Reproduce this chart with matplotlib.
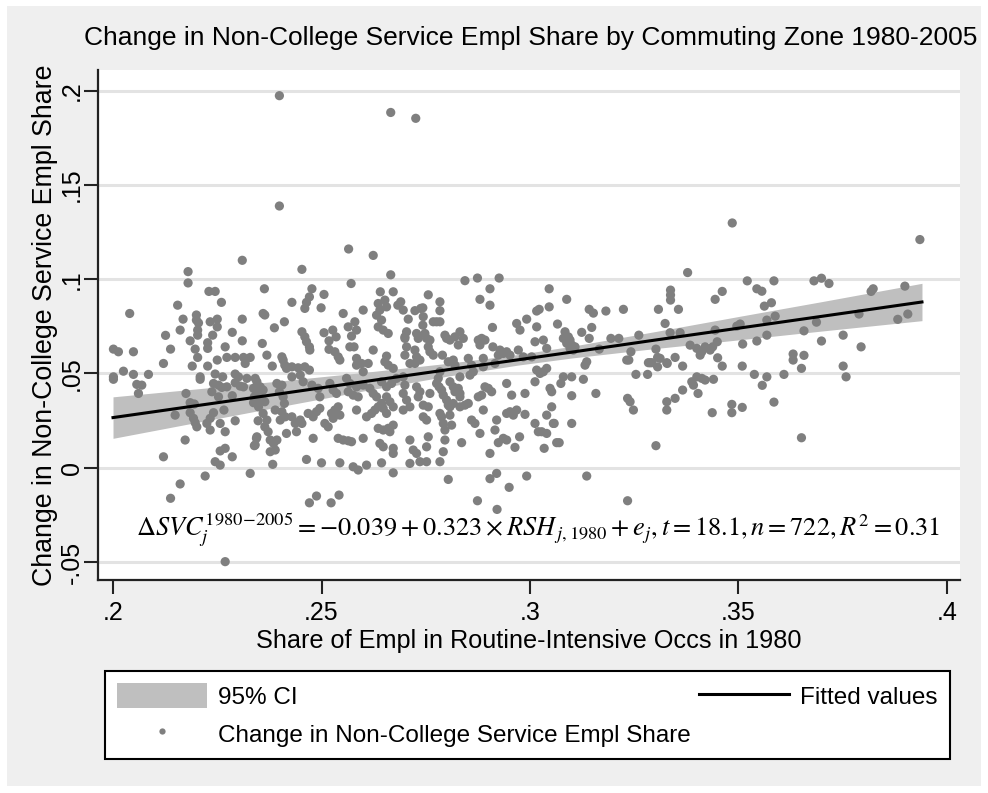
import matplotlib
matplotlib.use("Agg")
import matplotlib.pyplot as plt
from matplotlib.patches import Patch, Rectangle
from matplotlib.lines import Line2D

# ---------------- text ----------------
title = "Change in Non-College Service Empl Share by Commuting Zone 1980-2005"
x_label = "Share of Empl in Routine-Intensive Occs in 1980"
y_label = "Change in Non-College Service Empl Share"
x_ticks = [0.2, 0.25, 0.3, 0.35, 0.4]
x_tick_labels = [".2", ".25", ".3", ".35", ".4"]
y_ticks = [-0.05, 0.0, 0.05, 0.1, 0.15, 0.2]
y_tick_labels = ["-.05", "0", ".05", ".1", ".15", ".2"]
legend_labels = ["95% CI", "Change in Non-College Service Empl Share", "Fitted values"]
equation = (r"$\Delta SVC_j^{\mathrm{1980\!-\!2005}} = -0.039 + 0.323\times RSH_{\,j,\mathrm{1980}}"
            r" + e_j, t = 18.1, n = 722, R^2 = 0.31$")

# ---------------- fitted line and 95% CI ----------------
ci_x = [0.200, 0.220, 0.240, 0.260, 0.280, 0.297, 0.310, 0.330, 0.350, 0.370, 0.394]
fit_y = [0.0266, 0.0329, 0.0392, 0.0456, 0.0519, 0.0572, 0.0613, 0.0677, 0.0740, 0.0803, 0.0879]
ci_lo = [0.0156, 0.0240, 0.0324, 0.0407, 0.0485, 0.0544, 0.0582, 0.0632, 0.0678, 0.0725, 0.0780]
ci_hi = [0.0376, 0.0418, 0.0460, 0.0505, 0.0553, 0.0600, 0.0644, 0.0722, 0.0802, 0.0881, 0.0978]

# ---------------- commuting zones: (RSH share 1980, change in service share) ----------------
cz_low_rsh = [
    (.231, .110), (.218, .104), (.218, .098), (.223, .0935), (.2245, .0935), (.226, .0877), (.2155, .0862),
    (.204, .0818), (.220, .081), (.220, .0783), (.2205, .0768), (.2168, .0788), (.2233, .0774), (.225, .0788),
    (.225, .0747), (.231, .0788), (.2161, .073), (.2203, .073), (.2203, .0703), (.2286, .0718), (.2239, .0703),
    (.2126, .0702), (.2185, .0673), (.2227, .0663), (.2227, .0633), (.231, .0673), (.2269, .0641), (.2001, .0629),
    (.2013, .0615), (.2049, .0615), (.2138, .0629), (.2197, .0629), (.2203, .0585), (.225, .0571), (.2273, .0585),
    (.2293, .0585), (.2313, .0585), (.2329, .0585), (.2121, .0553), (.219, .0539), (.2227, .0539), (.2317, .0553),
    (.2025, .0512), (.2001, .0482), (.2001, .0469), (.2049, .0495), (.2085, .0495), (.2209, .0482), (.2209, .0469),
    (.2245, .0497), (.2263, .0482), (.2293, .0497), (.2301, .0482), (.2321, .0474), (.2341, .0474), (.2057, .0442),
    (.2069, .0438), (.2061, .0394), (.2241, .0447), (.2253, .0438), (.2261, .0426), (.2273, .0429), (.2237, .0403),
    (.2253, .0376), (.2293, .0451), (.2305, .0433), (.2313, .0429), (.2337, .0421), (.2345, .0403), (.2175, .0394),
    (.2286, .0382), (.2185, .0345), (.2195, .0338), (.2339, .0376), (.2337, .0345), (.2349, .035), (.2149, .0279),
    (.2185, .0292), (.2193, .0262), (.2197, .0239), (.2201, .0217), (.2241, .0292), (.2233, .0262), (.2225, .0235),
    (.2233, .020), (.2266, .0306), (.2257, .0235), (.2293, .0249), (.2269, .0191), (.2348, .0249), (.2173, .0147),
    (.2344, .0156), (.2339, .0117), (.2257, .0089), (.2269, .0103), (.2121, .0058), (.2286, .0058), (.2245, .0032),
    (.2257, .0014), (.2221, -.0044), (.2329, -.003), (.2138, -.0162), (.2161, -.0086), (.2269, -.0498),
    (.2399, .1973), (.2666, .1884), (.2726, .1853), (.2399, .1388), (.2565, .116), (.2624, .1126),
]
cz_mid_low_rsh = [
    (.2453, .1052), (.2666, .1023), (.2571, .0977), (.2363, .0949), (.2477, .0949), (.2471, .0906), (.2464, .0877),
    (.246, .0845), (.2506, .0919), (.2499, .0848), (.2429, .0877), (.2641, .0933), (.2672, .0933), (.2636, .0871),
    (.2652, .0889), (.2656, .0853), (.264, .0836), (.2632, .0809), (.2644, .0783), (.2636, .0747), (.2648, .073),
    (.266, .0712), (.260, .0836), (.2683, .0862), (.236, .0818), (.2364, .081), (.2411, .0774), (.2387, .0742),
    (.2552, .0818), (.2453, .0721), (.246, .0694), (.2464, .0668), (.2471, .0641), (.2472, .0624), (.2506, .0716),
    (.2518, .0673), (.2527, .073), (.2535, .0694), (.2518, .0628), (.2532, .0615), (.254, .0588), (.2544, .0571),
    (.2564, .0747), (.2572, .0698), (.258, .0774), (.2584, .073), (.2568, .0641), (.2578, .0641), (.2358, .0659),
    (.2369, .0597), (.2405, .0588), (.2408, .0571), (.2412, .0544), (.2416, .0527), (.2382, .0539), (.2429, .0535),
    (.2444, .053), (.246, .0535), (.2471, .0518), (.2584, .058), (.2584, .0544), (.2596, .0553), (.2612, .0553),
    (.260, .0509), (.2624, .0624), (.2656, .0592), (.2652, .0562), (.266, .0544), (.2672, .0527), (.270, .0597),
    (.270, .0694), (.2704, .0721), (.2345, .0456), (.2353, .0429), (.236, .0412), (.2351, .0376), (.2364, .035),
    (.2393, .0447), (.2405, .0438), (.2399, .0403), (.2408, .0376), (.2411, .0341), (.2429, .0482), (.2449, .0491),
    (.2456, .0456), (.2477, .0438), (.2492, .0421), (.2496, .0376), (.252, .0447), (.2528, .0412), (.2536, .0394),
    (.256, .0474), (.2568, .0447), (.2584, .0429), (.2564, .0403), (.2576, .0385), (.2588, .0376), (.260, .0438),
    (.2616, .0421), (.2624, .0394), (.2632, .0376), (.2644, .0456), (.2656, .0429), (.2668, .0447), (.268, .0474),
    (.2656, .0376), (.2664, .035), (.2696, .0394), (.2704, .0359), (.2349, .0323), (.236, .0288), (.2369, .0253),
    (.2364, .0217), (.2372, .0191), (.2389, .0306), (.2405, .0297), (.2401, .0253), (.2413, .027), (.2429, .027),
    (.2437, .0235), (.2449, .0253), (.2453, .0235), (.2468, .0288), (.248, .027), (.2488, .0297), (.2496, .0315),
    (.2508, .0235), (.2516, .0217), (.2524, .0288), (.2532, .0306), (.254, .0323), (.2528, .0262), (.2544, .0279),
    (.2584, .0306), (.2608, .027), (.262, .0288), (.2628, .0306), (.2636, .0323), (.2644, .0341), (.2648, .0315),
    (.2656, .0288), (.2672, .0323), (.2696, .0306), (.2636, .0209), (.2648, .020), (.266, .0209), (.2672, .0226),
    (.2664, .0191), (.2345, .0164), (.2341, .0121), (.2377, .0147), (.2385, .0129), (.2393, .0147), (.2389, .0094),
    (.2377, .0085), (.2416, .0182), (.244, .0191), (.248, .0156), (.254, .0156), (.2552, .0147), (.2564, .0143),
    (.2572, .0138), (.260, .0156), (.264, .0129), (.2648, .0111), (.2672, .0103), (.2672, .0076), (.2383, .0018),
    (.2464, .0044), (.250, .0026), (.2544, .0026), (.2576, .0005), (.2588, -.0012), (.2608, .0014), (.2644, .0026),
    (.2672, -.0027), (.2471, -.0186), (.2488, -.015), (.2523, -.0186), (.2542, -.0145),
]
cz_mid_rsh = [
    (.2844, .0992), (.2874, .1006), (.2926, .1006), (.2904, .0949), (.3046, .0949), (.2756, .0917), (.288, .0893),
    (.2904, .0862), (.3088, .0893), (.269, .088), (.2743, .0848), (.2784, .088), (.3022, .084), (.3046, .0853),
    (.2696, .0836), (.2784, .0833), (.2724, .0833), (.2738, .0845), (.2744, .0801), (.2708, .0788), (.2768, .0774),
    (.2776, .0774), (.2784, .0774), (.2743, .0756), (.270, .0686), (.2728, .0712), (.2732, .0686), (.2748, .0712),
    (.2752, .0686), (.276, .0677), (.2796, .0703), (.280, .0686), (.2808, .0677), (.282, .0694), (.2832, .0721),
    (.284, .0686), (.2828, .0651), (.291, .0744), (.2968, .0765), (.2976, .073), (.2992, .0788), (.3016, .0831),
    (.3016, .0747), (.3066, .0762), (.2876, .0677), (.2884, .0686), (.2892, .0677), (.288, .0651), (.2911, .0641),
    (.2928, .0624), (.2924, .0597), (.2936, .0606), (.2944, .0615), (.2952, .0597), (.2972, .0624), (.2984, .0588),
    (.3004, .0588), (.3012, .0668), (.3032, .0677), (.304, .0633), (.2704, .0641), (.2724, .0624), (.2728, .0588),
    (.2736, .0571), (.2712, .0553), (.2724, .0553), (.2756, .0641), (.276, .0615), (.2768, .0597), (.279, .0597),
    (.2804, .0562), (.2816, .0571), (.282, .0544), (.2852, .058), (.286, .0544), (.2864, .0509), (.2888, .058),
    (.2888, .0535), (.2916, .0553), (.2832, .0482), (.2784, .0509), (.278, .0474), (.2776, .0447), (.2782, .0429),
    (.2788, .0412), (.2792, .0385), (.2696, .0482), (.270, .0438), (.2728, .0429), (.2736, .0403), (.2732, .0376),
    (.276, .0394), (.2808, .0456), (.2816, .0429), (.282, .0403), (.2828, .0421), (.2832, .0394), (.2832, .0376),
    (.280, .0359), (.2804, .0332), (.2808, .0323), (.2816, .0341), (.2856, .0491), (.2876, .0376), (.2884, .0385),
    (.2892, .0429), (.290, .0421), (.2908, .0403), (.2944, .0447), (.2956, .0385), (.2988, .0394), (.3012, .0456),
    (.3016, .0518), (.3024, .050), (.3032, .0509), (.304, .0527), (.3048, .0421), (.3052, .0403), (.2712, .0323),
    (.2744, .0332), (.2756, .0323), (.2744, .027), (.2752, .0253), (.2784, .0288), (.2788, .027), (.2792, .0235),
    (.2796, .020), (.2808, .0279), (.2812, .0226), (.2832, .0323), (.2844, .0332), (.2852, .0341), (.286, .0253),
    (.2868, .0235), (.2888, .0306), (.288, .0182), (.2904, .0076), (.292, .0253), (.2916, .020), (.2924, .0133),
    (.2936, .0156), (.2944, .0147), (.2944, .0288), (.2952, .0297), (.296, .0279), (.2968, .0306), (.2964, .0108),
    (.2975, .0164), (.2988, .0283), (.3012, .0235), (.302, .0191), (.3028, .0191), (.304, .0182), (.304, .0279),
    (.3052, .0323), (.3056, .0235), (.3064, .0133), (.3034, .0103), (.2712, .0147), (.272, .0094), (.2728, .0076),
    (.2756, .0164), (.2752, .0111), (.2796, .0147), (.2792, .0085), (.2836, .0133), (.2712, .0023), (.2736, .0032),
    (.2752, .0032), (.2784, .0032), (.2804, -.0062), (.2904, -.0058), (.292, -.003), (.2992, -.0044),
    (.295, -.0104), (.2874, -.0175), (.2921, -.0221), (.3136, -.0044), (.3234, -.0175),
]
cz_mid_high_rsh = [
    (.3142, .084), (.3152, .082), (.3182, .0831), (.3224, .084), (.3308, .084), (.3337, .0942), (.3337, .0916),
    (.3337, .0889), (.3378, .1035), (.3356, .084), (.3148, .0744), (.3124, .0718), (.3324, .0765), (.3084, .0721),
    (.3092, .0694), (.308, .0686), (.3096, .0677), (.310, .0651), (.3088, .066), (.3104, .0624), (.3108, .0641),
    (.3096, .0633), (.3142, .0686), (.3194, .0686), (.3213, .0686), (.3261, .0703), (.3166, .0629), (.3242, .0615),
    (.3232, .0571), (.3237, .0571), (.3136, .0562), (.3132, .0544), (.3284, .0557), (.3288, .0557), (.3292, .0557),
    (.3302, .0629), (.3306, .0585), (.3306, .0535), (.3329, .0553), (.3254, .0495), (.3282, .0495), (.308, .0482),
    (.3074, .0447), (.310, .0482), (.3128, .0469), (.3158, .0394), (.310, .0382), (.3234, .0368), (.324, .035),
    (.3248, .0306), (.3058, .0235), (.310, .0235), (.307, .0133), (.3302, .0117),
]
cz_high_rsh = [
    (.3485, .1298), (.3935, .121), (.3521, .0991), (.3544, .0949), (.3556, .0936), (.3585, .0991), (.3681, .0991),
    (.3699, .1005), (.3717, .0977), (.3461, .0935), (.3444, .0893), (.3818, .0935), (.3823, .0949), (.3899, .0963),
    (.3562, .0857), (.3579, .0875), (.3336, .0716), (.336, .0716), (.3444, .073), (.3496, .0751), (.3504, .0762),
    (.3588, .0804), (.3568, .0783), (.3657, .0726), (.3687, .0772), (.3789, .0815), (.3882, .0787), (.3906, .0815),
    (.3384, .065), (.340, .0633), (.3412, .0615), (.3408, .0597), (.342, .0641), (.3432, .0624), (.3438, .0641),
    (.3449, .0668), (.351, .0656), (.3544, .0672), (.3568, .0703), (.3699, .0672), (.3751, .0703), (.3794, .0641),
    (.3312, .058), (.3328, .0557), (.3348, .0585), (.3366, .0539), (.345, .0583), (.3461, .0539), (.3509, .0539),
    (.3631, .0603), (.3631, .0571), (.3657, .0596), (.3651, .0527), (.3751, .0539), (.3758, .0482), (.3538, .0495),
    (.3568, .0482), (.3557, .0437), (.3609, .0495), (.3585, .0348), (.340, .0482), (.3412, .0474), (.342, .0465),
    (.3388, .0456), (.3392, .0438), (.3403, .0394), (.344, .0469), (.3366, .0412), (.3348, .0368), (.3328, .035),
    (.3328, .0306), (.3437, .0292), (.3484, .0336), (.3484, .0292), (.3509, .032), (.3651, .0159),
]

# ---------------- styling ----------------
BG = "#efefef"
PT = "#7f7f7f"
BAND = "#bfbfbf"
GRID = "#e3e3e3"

plt.rcParams["font.family"] = ["Liberation Sans", "DejaVu Sans"]
plt.rcParams["mathtext.fontset"] = "stix"

W, H = 988, 793
fig = plt.figure(figsize=(W / 100, H / 100), dpi=100)
fig.patch.set_facecolor("white")
fig.patches.append(Rectangle((7 / W, 7 / H), 974 / W, 780 / H, transform=fig.transFigure,
                             facecolor=BG, edgecolor="none", zorder=-10))

L, R, T, B = 98, 960, 70, 580
ax = fig.add_axes([L / W, 1 - B / H, (R - L) / W, (B - T) / H])
ax.set_facecolor("white")

# limits mapped from pixel frame of the plot region
ax.set_xlim(0.19640, 0.40312)
ax.set_ylim(-0.05953, 0.21092)

for k, s in ax.spines.items():
    if k in ("top", "right"):
        s.set_visible(False)
    else:
        s.set_linewidth(1.6)
        s.set_color("#222222")

ax.set_yticks(y_ticks)
ax.set_yticklabels(y_tick_labels)
ax.set_xticks(x_ticks)
ax.set_xticklabels(x_tick_labels)
ax.tick_params(axis="both", direction="out", length=10, width=1.5, color="#222222", labelsize=18)
ax.tick_params(axis="x", pad=5)
ax.tick_params(axis="y", pad=0, labelrotation=90)
for lab in ax.get_yticklabels():
    lab.set_va("center")
ax.yaxis.grid(True, color=GRID, lw=2.2, zorder=0)
ax.set_axisbelow(True)

ax.fill_between(ci_x, ci_lo, ci_hi, color=BAND, lw=0, zorder=1)
xs = [p[0] for grp in (cz_low_rsh, cz_mid_low_rsh, cz_mid_rsh, cz_mid_high_rsh, cz_high_rsh) for p in grp]
ys = [p[1] for grp in (cz_low_rsh, cz_mid_low_rsh, cz_mid_rsh, cz_mid_high_rsh, cz_high_rsh) for p in grp]
ax.scatter(xs, ys, s=44, color=PT, edgecolors="none", zorder=2)
ax.plot(ci_x, fit_y, color="black", lw=2.2, zorder=3)

ax.text(0.511, 0.098, equation, transform=ax.transAxes, ha="center", va="center",
        fontsize=19, color="black")

ax.set_xlabel(x_label, fontsize=18.2)
ax.xaxis.label.set_va("center")
ax.xaxis.set_label_coords(0.5, (B - 641) / (B - T))
ax.set_ylabel(y_label, fontsize=19.3)
ax.yaxis.label.set_va("center")
ax.yaxis.set_label_coords((45 - L) / (R - L), 0.5)

ttl = ax.set_title(title, loc="left", fontsize=19.0, y=(B - 38) / (B - T), va="center", pad=0)
ttl.set_x((84 - L) / (R - L))

handles = [Patch(facecolor=BAND, edgecolor="none"),
           Line2D([], [], ls="none", marker="o", markersize=4.5, color=PT, markeredgewidth=0),
           Line2D([], [], color="black", lw=2.2)]
leg = fig.legend(handles, legend_labels, ncol=2, mode="expand",
                 bbox_to_anchor=(105 / W, 1 - 763 / H, 845 / W, 96 / H), loc="center",
                 fontsize=17.5, frameon=True, fancybox=False, edgecolor="black", facecolor="white",
                 framealpha=1, borderaxespad=0, borderpad=0.5, labelspacing=0.5,
                 handlelength=3.7, handleheight=1.2, handletextpad=0.45, columnspacing=1.0)
leg.get_frame().set_linewidth(1.5)

fig.savefig("out.png", dpi=100, facecolor=fig.get_facecolor())
